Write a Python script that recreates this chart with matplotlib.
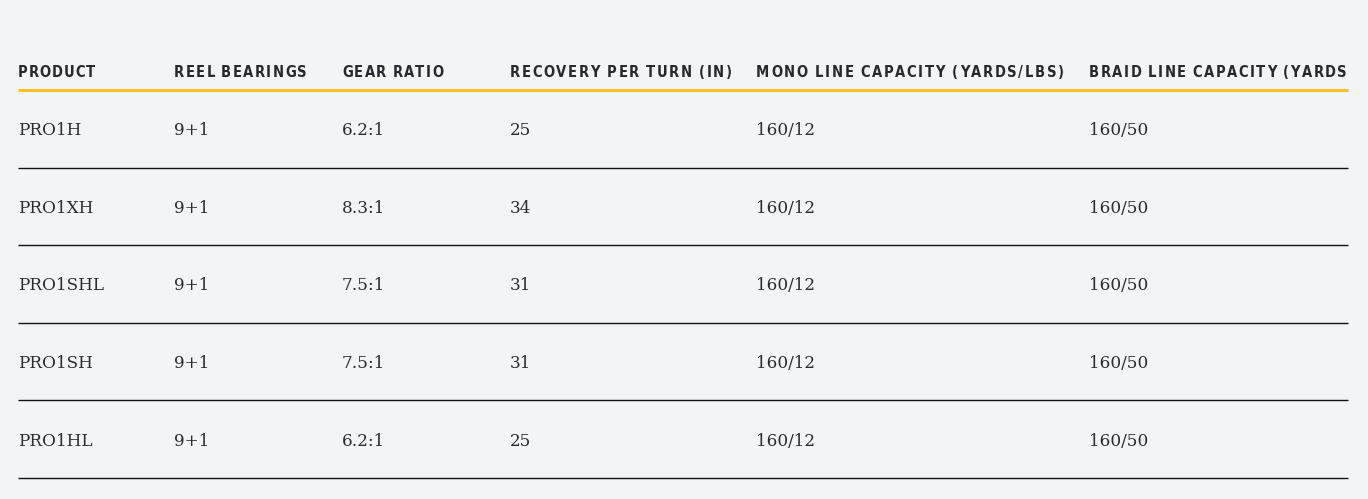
import matplotlib.pyplot as plt
from matplotlib import font_manager
from matplotlib.font_manager import FontProperties

columns = ["PRODUCT", "REEL BEARINGS", "GEAR RATIO", "RECOVERY PER TURN (IN)",
           "MONO LINE CAPACITY (YARDS/LBS)", "BRAID LINE CAPACITY (YARDS"]
products = ["PRO1H", "PRO1XH", "PRO1SHL", "PRO1SH", "PRO1HL"]
bearings = ["9+1", "9+1", "9+1", "9+1", "9+1"]
gear_ratio = ["6.2:1", "8.3:1", "7.5:1", "7.5:1", "6.2:1"]
recovery = ["25", "34", "31", "31", "25"]
mono = ["160/12", "160/12", "160/12", "160/12", "160/12"]
braid = ["160/50", "160/50", "160/50", "160/50", "160/50"]

rows = list(zip(products, bearings, gear_ratio, recovery, mono, braid))

# layout, in pixels
col_x = [18, 174, 342, 510, 756, 1089]
head_w = [77, 133, 101, 222, 308, 258]
left, right = 18, 1348
header_y = 72
line_y = 90
row_h = 77.6

bg = "#f2f5f6"

# look for a narrow bold face for the header, else plain bold sans
head_fp = None
for f in font_manager.fontManager.ttflist:
    if "condensed" in str(f.stretch).lower() or "narrow" in f.name.lower():
        if f.weight in ("bold", 700, "semibold", 600):
            head_fp = FontProperties(fname=f.fname)
            break
if head_fp is None:
    head_fp = FontProperties(family="Roboto", weight="bold")

fig = plt.figure(figsize=(13.68, 4.99), dpi=100, facecolor=bg)
ax = fig.add_axes([0, 0, 1, 1])
ax.set_xlim(0, 1368)
ax.set_ylim(499, 0)
ax.axis("off")

fig.canvas.draw()
renderer = fig.canvas.get_renderer()
inv = ax.transData.inverted()


def char_width(ch, size):
    if ch == " ":
        return 0.35 * size
    t = ax.text(0, 0, ch, fontproperties=head_fp, fontsize=size)
    bb = t.get_window_extent(renderer)
    t.remove()
    return inv.transform((bb.x1, 0))[0] - inv.transform((bb.x0, 0))[0]


def tracks(size):
    out = []
    for name, w in zip(columns, head_w):
        nat = sum(char_width(ch, size) for ch in name)
        out.append((w - nat) / (len(name) - 1))
    return out


# one font size for every header, letter spacing stretched to the widths
head_size = 14.0
while min(tracks(head_size)) < 0.8 and head_size > 8:
    head_size -= 0.25
head_track = tracks(head_size)

for x, name, tr in zip(col_x, columns, head_track):
    # matplotlib has no letter-spacing, so place the letters one by one
    for ch in name:
        ax.text(x, header_y, ch, ha="left", va="center", fontproperties=head_fp,
                fontsize=head_size, color="#26292e")
        x += char_width(ch, head_size) + tr

ax.plot([left, right], [line_y, line_y], color="#f7c025", lw=2.2,
        solid_capstyle="butt")

for i, row in enumerate(rows):
    cy = line_y + row_h * (i + 0.5) + 2
    for x, val in zip(col_x, row):
        ax.text(x, cy, val, ha="left", va="center", family="DejaVu Serif",
                fontsize=12.2, color="#2b2b2b")
    ly = line_y + row_h * (i + 1)
    ax.plot([left, right], [ly, ly], color="#111111", lw=1.0,
            solid_capstyle="butt")

fig.savefig("out.png", dpi=100, facecolor=bg)
